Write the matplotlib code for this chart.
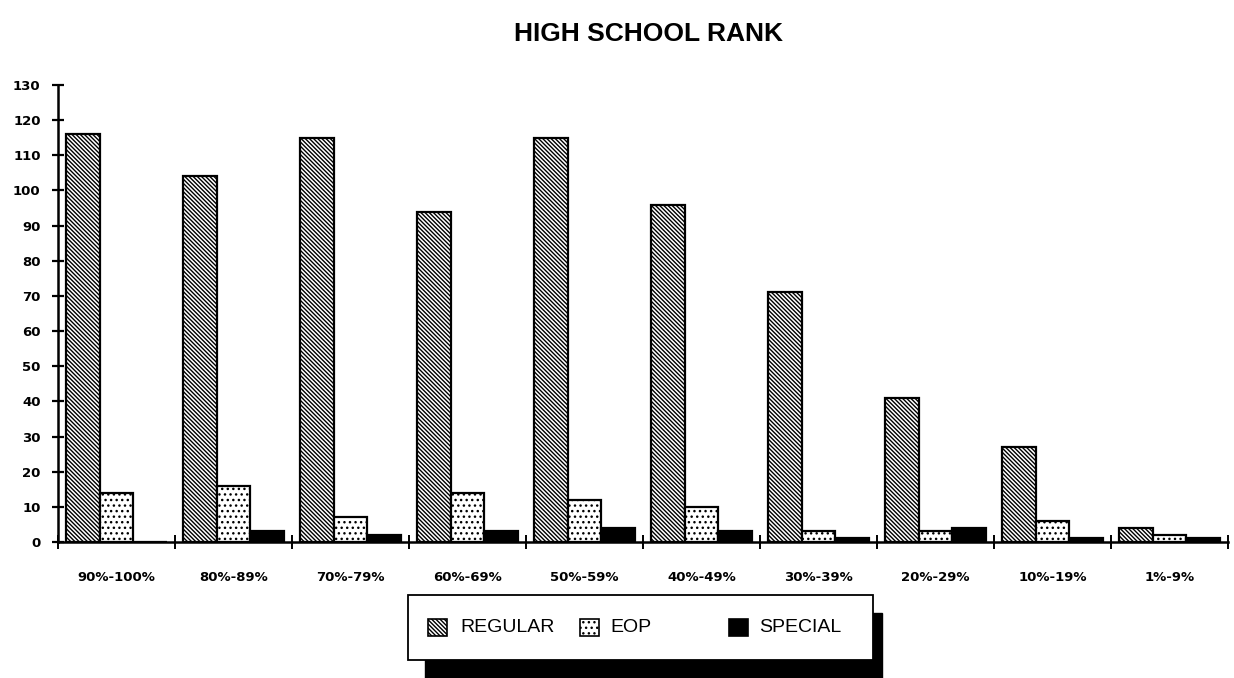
import matplotlib
matplotlib.use("Agg")
import matplotlib.pyplot as plt
from matplotlib.patches import Rectangle
import numpy as np

categories = ["90%-100%", "80%-89%", "70%-79%", "60%-69%", "50%-59%",
              "40%-49%", "30%-39%", "20%-29%", "10%-19%", "1%-9%"]
regular = [116, 104, 115, 94, 115, 96, 71, 41, 27, 4]
eop = [14, 16, 7, 14, 12, 10, 3, 3, 6, 2]
special = [0, 3, 2, 3, 4, 3, 1, 4, 1, 1]
yticks = list(range(0, 131, 10))
series_names = ["REGULAR", "EOP", "SPECIAL"]
title = "HIGH SCHOOL RANK"

W, H = 1234, 678
plt.rcParams['hatch.linewidth'] = 1.0
fig = plt.figure(figsize=(W / 100, H / 100), dpi=100)
ax = fig.add_axes([58 / W, 1 - 542 / H, (1228 - 58) / W, (542 - 85) / H])

x = np.arange(len(categories))
bw = 0.285
styles = [dict(facecolor="white", hatch="\\" * 8),
          dict(facecolor="white", hatch="..."),
          dict(facecolor="black", hatch=None)]
for i, vals in enumerate([regular, eop, special]):
    ax.bar(x + (i - 1) * bw, vals, bw, edgecolor="black", linewidth=1.6,
           **styles[i])

ax.set_xlim(-0.5, len(categories) - 0.5)
ax.set_ylim(0, 130)
ax.spines['top'].set_visible(False)
ax.spines['right'].set_visible(False)
ax.spines['left'].set_linewidth(1.8)
ax.spines['bottom'].set_linewidth(1.8)

ax.set_yticks(yticks)
ax.set_yticklabels([str(v) for v in yticks], fontfamily="DejaVu Sans",
                   fontweight="bold", fontsize=9.5)
ax.tick_params(axis='y', direction='inout', length=9, width=1.6, pad=8)

ax.set_xticks(x)
ax.set_xticklabels(categories, fontfamily="DejaVu Sans", fontweight="bold",
                   fontsize=9.5)
ax.tick_params(axis='x', which='major', length=0, pad=21)
ax.set_xticks(np.arange(len(categories) + 1) - 0.5, minor=True)
ax.tick_params(axis='x', which='minor', direction='inout', length=10, width=1.4)

fig.text(649 / W, 1 - 34 / H, title, ha='center', va='center',
         fontfamily="Liberation Sans", fontweight="bold", fontsize=19)

# legend with drop shadow
def fx(px):
    return px / W

def fy(py):
    return 1 - py / H

shadow = Rectangle((fx(425), fy(690)), fx(882) - fx(425), fy(613) - fy(690),
                   transform=fig.transFigure, facecolor="black",
                   edgecolor="black", zorder=1)
box = Rectangle((fx(408), fy(660)), fx(873) - fx(408), fy(595) - fy(660),
                transform=fig.transFigure, facecolor="white",
                edgecolor="black", linewidth=1.3, zorder=2)
fig.add_artist(shadow)
fig.add_artist(box)

icon_x = [428, 580, 729]
text_x = [460, 610, 759]
for i, name in enumerate(series_names):
    st = styles[i]
    ic = Rectangle((fx(icon_x[i]), fy(636)), fx(19), 17 / H,
                   transform=fig.transFigure, edgecolor="black", linewidth=1.2,
                   zorder=3, **st)
    fig.add_artist(ic)
    fig.text(fx(text_x[i]), fy(628), name, ha='left', va='center',
             fontfamily="Liberation Sans", fontsize=14, zorder=3)

fig.savefig("out.png", dpi=100, facecolor="white")
